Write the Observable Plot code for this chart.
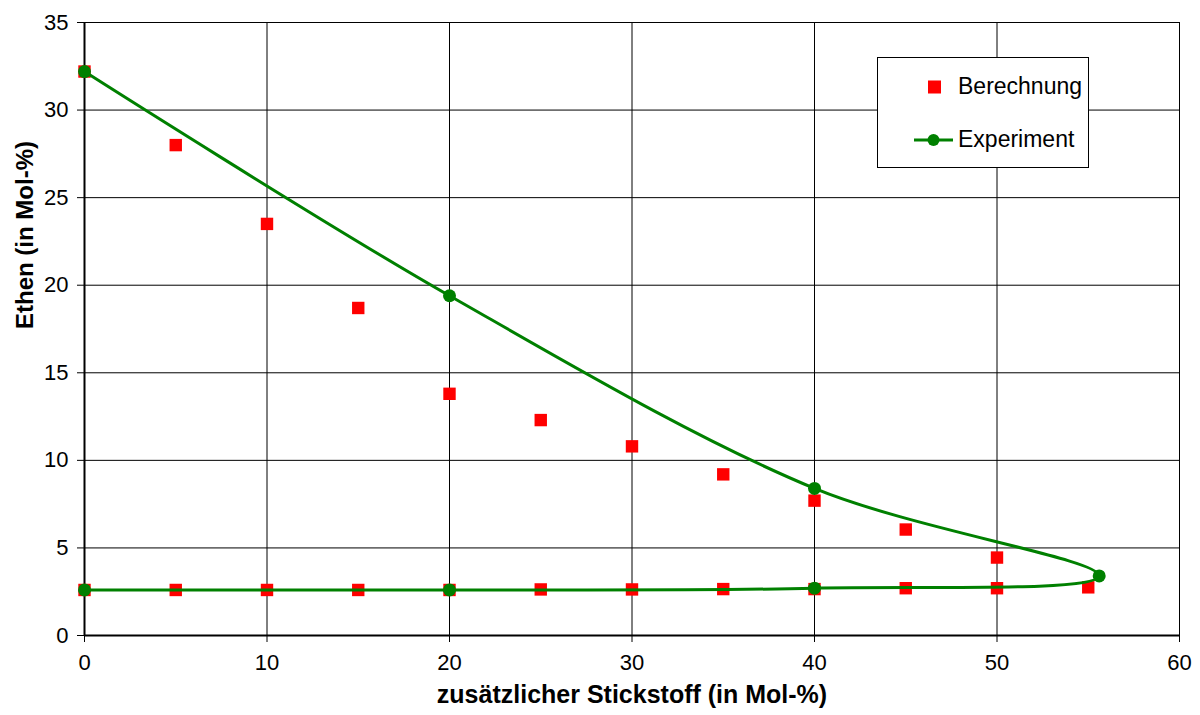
<!DOCTYPE html>
<html><head><meta charset="utf-8">
<script src="https://cdn.jsdelivr.net/npm/d3@7"></script>
<script src="https://cdn.jsdelivr.net/npm/@observablehq/plot@0.6"></script>
<style>
body{margin:0;background:#fff;font-family:"Liberation Sans",Arial,sans-serif;}
#wrap{position:relative;width:1200px;height:715px;overflow:hidden;}
#legend{position:absolute;left:877px;top:57px;width:212px;height:111px;border:1px solid #000;background:#fff;box-sizing:border-box;font-size:23px;color:#000;}
#legend .row{position:absolute;left:0;display:flex;align-items:center;}
</style></head><body>
<div id="wrap"><div id="chart"></div>
<div id="legend">
  <div class="row" style="top:15px;left:30px;"><svg width="50" height="26"><rect x="20" y="6.5" width="13" height="13" fill="#ff0000"/></svg><span>Berechnung</span></div>
  <div class="row" style="top:68px;left:30px;"><svg width="50" height="26"><line x1="6" y1="13" x2="45" y2="13" stroke="#008000" stroke-width="3"/><circle cx="25.5" cy="13" r="6" fill="#008000"/></svg><span>Experiment</span></div>
</div>
</div>
<script>
// Berechnung (calculated), two branches
const calcX = [0, 5, 10, 15, 20, 25, 30, 35, 40, 45, 50, 55];
const calcUpper = [32.2, 28.0, 23.5, 18.7, 13.8, 12.3, 10.8, 9.2, 7.7, 6.05, 4.45, 2.75];
const calcLower = [2.6, 2.6, 2.6, 2.6, 2.6, 2.63, 2.63, 2.65, 2.65, 2.7, 2.7];
// Experiment (path order)
const expX = [0, 20, 40, 55.6, 40, 20, 0];
const expY = [32.2, 19.4, 8.4, 3.4, 2.7, 2.6, 2.6];
const xTicks = [0, 10, 20, 30, 40, 50, 60];
const yTicks = [0, 5, 10, 15, 20, 25, 30, 35];

const calc = calcX.map((x, i) => ({x, y: calcUpper[i]}))
  .concat(calcLower.map((y, i) => ({x: calcX[i], y})));
const exp = expX.map((x, i) => ({x, y: expY[i]}));

const chart = Plot.plot({
  width: 1200, height: 715,
  marginLeft: 84, marginRight: 21, marginTop: 22, marginBottom: 80,
  style: {fontFamily: '"Liberation Sans", Arial, sans-serif', background: "#fff", color: "#000"},
  x: {domain: [0, 60]},
  y: {domain: [0, 35]},
  marks: [
    Plot.gridX(xTicks, {stroke: "#000", strokeOpacity: 1, strokeWidth: 1}),
    Plot.gridY(yTicks, {stroke: "#000", strokeOpacity: 1, strokeWidth: 1}),
    Plot.frame({stroke: "#000", strokeWidth: 1}),
    Plot.axisX(xTicks, {tickSize: 7, tickPadding: 12, fontSize: 22, label: null, stroke: "#000"}),
    Plot.axisY(yTicks, {tickSize: 7, tickPadding: 9, fontSize: 22, label: null, stroke: "#000"}),
    Plot.ruleX([0], {stroke: "#000", strokeWidth: 2}),
    Plot.ruleY([0], {stroke: "#000", strokeWidth: 2}),
    Plot.dot(calc, {x: "x", y: "y", symbol: "square", r: 7, fill: "#ff0000", stroke: null}),
    Plot.line(exp, {x: "x", y: "y", stroke: "#008000", strokeWidth: 3, curve: "catmull-rom"}),
    Plot.dot(exp, {x: "x", y: "y", r: 6.5, fill: "#008000", stroke: null}),
    Plot.text(["zusätzlicher Stickstoff (in Mol-%)"], {frameAnchor: "bottom", dy: 67, fontSize: 25, fontWeight: "bold", text: d => d}),
    Plot.text(["Ethen (in Mol-%)"], {frameAnchor: "left", dx: -59, rotate: -90, fontSize: 24, fontWeight: "bold", text: d => d})
  ]
});
document.getElementById("chart").appendChild(chart);
</script>
</body></html>
